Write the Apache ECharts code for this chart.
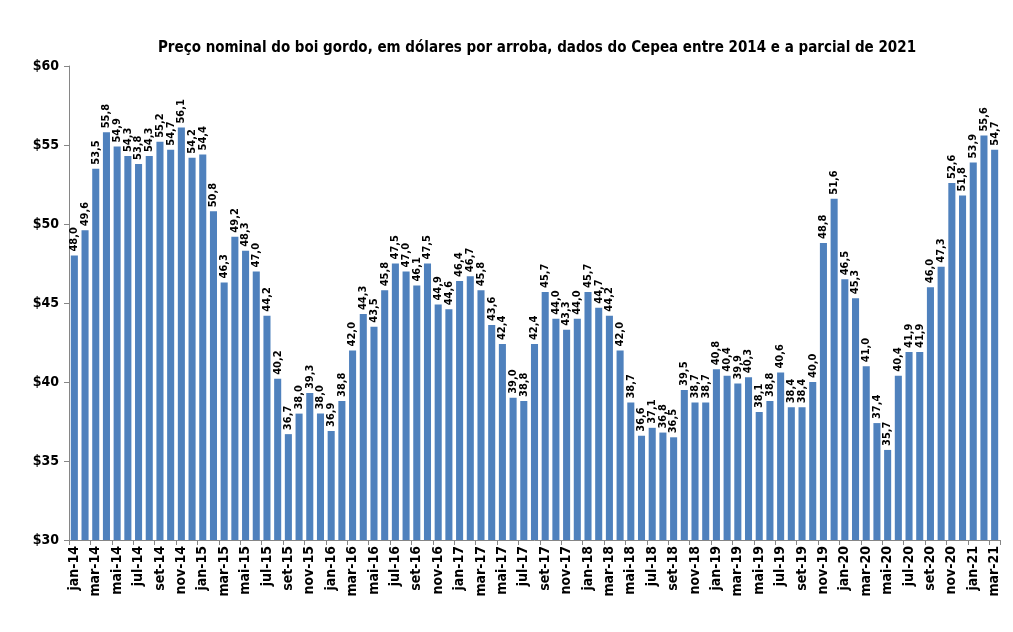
<!DOCTYPE html>
<html><head><meta charset="utf-8">
<script src="https://cdn.jsdelivr.net/npm/echarts@6/dist/echarts.min.js"></script>
<style>html,body{margin:0;padding:0;background:#fff}#c{width:1013px;height:632px}</style>
</head><body><div id="c"></div>
<script>
const monthNames = ['jan','fev','mar','abr','mai','jun','jul','ago','set','out','nov','dez'];
const years = ['14','15','16','17','18','19','20','21'];
const values2014 = [48.0,49.6,53.5,55.8,54.9,54.3,53.8,54.3,55.2,54.7,56.1,54.2];
const values2015 = [54.4,50.8,46.3,49.2,48.3,47.0,44.2,40.2,36.7,38.0,39.3,38.0];
const values2016 = [36.9,38.8,42.0,44.3,43.5,45.8,47.5,47.0,46.1,47.5,44.9,44.6];
const values2017 = [46.4,46.7,45.8,43.6,42.4,39.0,38.8,42.4,45.7,44.0,43.3,44.0];
const values2018 = [45.7,44.7,44.2,42.0,38.7,36.6,37.1,36.8,36.5,39.5,38.7,38.7];
const values2019 = [40.8,40.4,39.9,40.3,38.1,38.8,40.6,38.4,38.4,40.0,48.8,51.6];
const values2020 = [46.5,45.3,41.0,37.4,35.7,40.4,41.9,41.9,46.0,47.3,52.6,51.8];
const values2021 = [53.9,55.6,54.7];
const values = [].concat(values2014,values2015,values2016,values2017,values2018,values2019,values2020,values2021);
const categories = [];
for (let i = 0; i < values.length; i++) {
  categories.push(monthNames[i % 12] + '-' + years[Math.floor(i / 12)]);
}
const yTicks = [30,35,40,45,50,55,60];

const font = '"Liberation Sans Narrow","DejaVu Sans Condensed","Liberation Sans",sans-serif';
const chart = echarts.init(document.getElementById('c'), null, {renderer:'canvas'});
chart.setOption({
  animation:false,
  title:{
    text:'Preço nominal do boi gordo, em dólares por arroba, dados do Cepea entre 2014 e a parcial de 2021',
    left:532, top:36, textAlign:'center',
    textStyle:{fontFamily:font,fontWeight:'bold',fontSize:15,color:'#000'}
  },
  grid:{left:69,right:13,top:66,bottom:92,containLabel:false},
  xAxis:{
    type:'category',
    data:categories,
    axisLine:{lineStyle:{color:'#868686',width:1}},
    axisTick:{show:true,interval:1,length:5,alignWithLabel:false,lineStyle:{color:'#868686'}},
    axisLabel:{interval:1,rotate:90,fontFamily:font,fontWeight:'bold',fontSize:14,color:'#000',margin:6}
  },
  yAxis:{
    type:'value',min:yTicks[0],max:yTicks[yTicks.length-1],interval:5,
    axisLine:{show:true,lineStyle:{color:'#868686',width:1}},
    axisTick:{show:true,length:5,inside:false,lineStyle:{color:'#868686'}},
    splitLine:{show:false},
    axisLabel:{formatter:v=>'$'+v,fontFamily:font,fontWeight:'bold',fontSize:14,color:'#000',margin:10}
  },
  series:[{
    type:'bar',
    data:values,
    barCategoryGap:'34%',
    itemStyle:{color:'#4F81BD'},
    label:{
      show:true,position:'top',rotate:90,align:'left',verticalAlign:'middle',distance:4,
      formatter:p=>p.value.toFixed(1).replace('.',','),
      fontFamily:font,fontWeight:'bold',fontSize:11,color:'#000'
    }
  }]
});
</script></body></html>
